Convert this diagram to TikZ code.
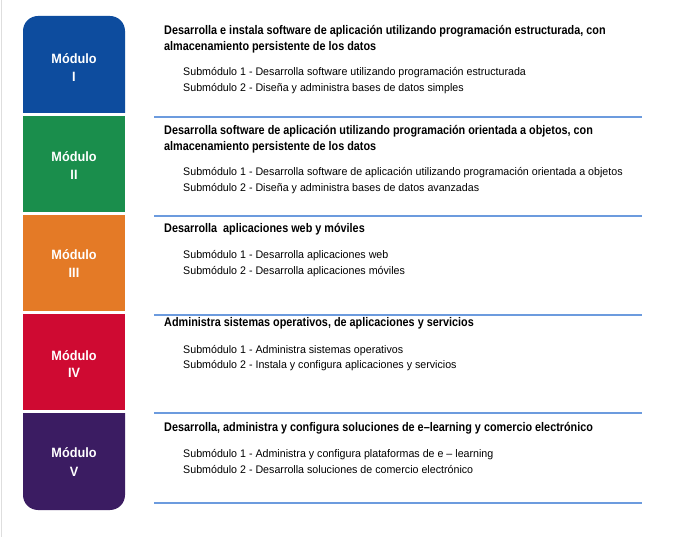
\documentclass[tikz,border=0pt]{standalone}
\usepackage{fontspec}
\setmainfont{Liberation Sans}
\newfontfamily\hdrfont[FakeStretch=0.867]{Liberation Sans}
\newfontfamily\subfont[FakeStretch=0.97]{Liberation Sans}
\newfontfamily\modfont[FakeStretch=0.94]{Liberation Sans}
\definecolor{modI}{RGB}{13,76,158}
\definecolor{modII}{RGB}{26,142,76}
\definecolor{modIII}{RGB}{228,122,38}
\definecolor{modIV}{RGB}{207,10,50}
\definecolor{modV}{RGB}{59,28,98}
\definecolor{rule}{RGB}{108,155,222}
\definecolor{frame}{RGB}{222,222,222}
\tikzset{
  modlabel/.style={anchor=base, text=white, font=\modfont\bfseries\fontsize{13.5}{15}\selectfont, inner sep=0pt},
  header/.style={anchor=base west, font=\hdrfont\bfseries\fontsize{12.5}{16}\selectfont, inner sep=0pt},
  subitem/.style={anchor=base west, font=\subfont\fontsize{11}{16}\selectfont, inner sep=0pt},
  sep/.style={draw=rule, line width=1.6pt},
}
\begin{document}
\begin{tikzpicture}[x=1pt,y=-1pt]
\useasboundingbox (0,0) rectangle (691,537);
\fill[white] (0,0) rectangle (691,537);
\draw[frame, line width=1pt] (1.5,0) -- (1.5,537);

% module column: rounded top on the first block, rounded bottom on the last
\fill[modI] (23,113) [rounded corners=15pt] -- (23,16) -- (125,16) [sharp corners] -- (125,113) -- cycle;
\fill[modII] (23,116) rectangle (125,212);
\fill[modIII] (23,215) rectangle (125,311);
\fill[modIV] (23,314) rectangle (125,410);
\fill[modV] (23,413) [rounded corners=15pt] -- (23,510) -- (125,510) [sharp corners] -- (125,413) -- cycle;

\node[modlabel] (m1a) at (74,63.3) {Módulo};
\node[modlabel] (m1b) at (74,81.7) {I};
\node[modlabel] (m2a) at (74,161.7) {Módulo};
\node[modlabel] (m2b) at (74,179.3) {II};
\node[modlabel] (m3a) at (74,260) {Módulo};
\node[modlabel] (m3b) at (74,277.7) {III};
\node[modlabel] (m4a) at (74,360) {Módulo};
\node[modlabel] (m4b) at (74,377.7) {IV};
\node[modlabel] (m5a) at (74,457) {Módulo};
\node[modlabel] (m5b) at (74,476) {V};

% separators
\coordinate (r1a) at (154,117); \coordinate (r1b) at (642,117);
\coordinate (r2a) at (154,216); \coordinate (r2b) at (642,216);
\coordinate (r3a) at (154,315); \coordinate (r3b) at (642,315);
\coordinate (r4a) at (154,413); \coordinate (r4b) at (642,413);
\coordinate (r5a) at (154,503); \coordinate (r5b) at (642,503);
\foreach \i in {1,...,5} \draw[sep] (r\i a) -- (r\i b);

% module I
\node[header] (h1a) at (164,35) {Desarrolla e instala software de aplicación utilizando programación estructurada, con};
\node[header] (h1b) at (164,51) {almacenamiento persistente de los datos};
\node[subitem] (s1a) at (183,76) {Submódulo 1 - Desarrolla software utilizando programación estructurada};
\node[subitem] (s1b) at (183,92) {Submódulo 2 - Diseña y administra bases de datos simples};

% module II
\node[header] (h2a) at (164,135) {Desarrolla software de aplicación utilizando programación orientada a objetos, con};
\node[header] (h2b) at (164,151) {almacenamiento persistente de los datos};
\node[subitem] (s2a) at (183,176) {Submódulo 1 - Desarrolla software de aplicación utilizando programación orientada a objetos};
\node[subitem] (s2b) at (183,192) {Submódulo 2 - Diseña y administra bases de datos avanzadas};

% module III
\node[header] (h3a) at (164,233) {Desarrolla\ \ aplicaciones web y móviles};
\node[subitem] (s3a) at (183,259) {Submódulo 1 - Desarrolla aplicaciones web};
\node[subitem] (s3b) at (183,275) {Submódulo 2 - Desarrolla aplicaciones móviles};

% module IV
\node[header] (h4a) at (164,327) {Administra sistemas operativos, de aplicaciones y servicios};
\node[subitem] (s4a) at (183,353) {Submódulo 1 - Administra sistemas operativos};
\node[subitem] (s4b) at (183,369) {Submódulo 2 - Instala y configura aplicaciones y servicios};

% module V
\node[header] (h5a) at (164,431) {Desarrolla, administra y configura soluciones de e–learning y comercio electrónico};
\node[subitem] (s5a) at (183,457) {Submódulo 1 - Administra y configura plataformas de e – learning};
\node[subitem] (s5b) at (183,473) {Submódulo 2 - Desarrolla soluciones de comercio electrónico};
\end{tikzpicture}
\end{document}
